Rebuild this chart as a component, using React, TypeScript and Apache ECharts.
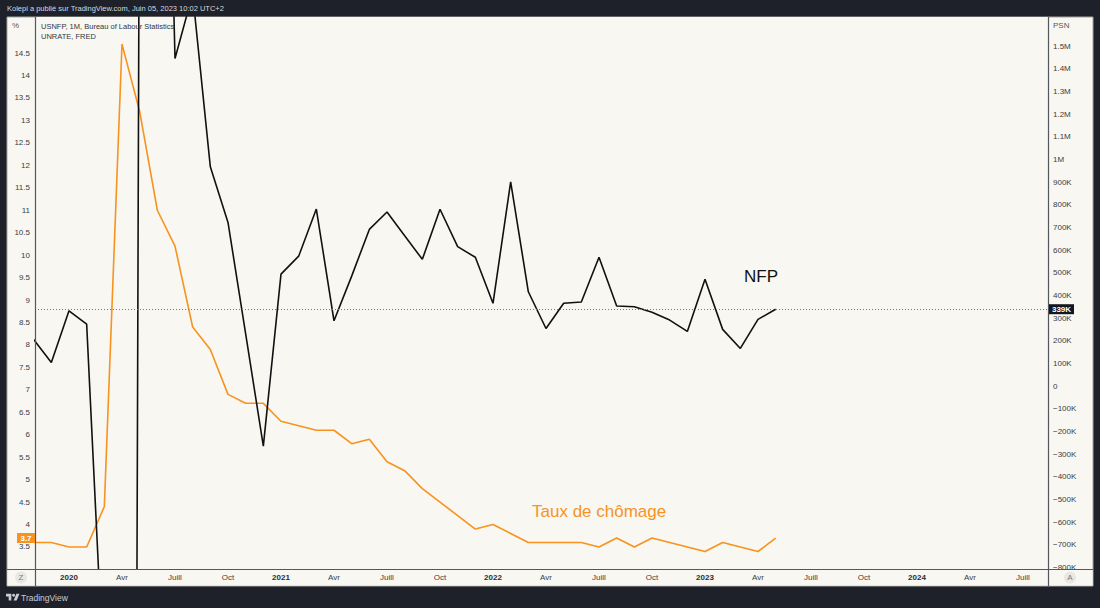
import React, { useEffect, useRef } from "react";
import * as echarts from "echarts";

// ---------- DATA ----------
const MONTHS = [
  "2019-11", "2019-12",
  "2020-01", "2020-02", "2020-03", "2020-04", "2020-05", "2020-06",
  "2020-07", "2020-08", "2020-09", "2020-10", "2020-11", "2020-12",
  "2021-01", "2021-02", "2021-03", "2021-04", "2021-05", "2021-06",
  "2021-07", "2021-08", "2021-09", "2021-10", "2021-11", "2021-12",
  "2022-01", "2022-02", "2022-03", "2022-04", "2022-05", "2022-06",
  "2022-07", "2022-08", "2022-09", "2022-10", "2022-11", "2022-12",
  "2023-01", "2023-02", "2023-03", "2023-04", "2023-05",
];

// Non-farm payrolls, thousands
const NFP_K = [
  205, 104,
  332, 273, -1340, -20493, 2725, 4600, 1445, 1730, 967, 722, 230, -265,
  494, 573, 781, 288, 485, 691, 768, 663, 559, 780, 615, 568,
  365, 901, 416, 254, 365, 371, 568, 353, 350, 326, 291, 241,
  471, 250, 166, 294, 339,
];

// Unemployment rate, %
const UNRATE = [
  3.6, 3.6,
  3.5, 3.5, 4.4, 14.7, 13.2, 11.0, 10.2, 8.4, 7.9, 6.9, 6.7, 6.7,
  6.3, 6.2, 6.1, 6.1, 5.8, 5.9, 5.4, 5.2, 4.8, 4.5, 4.2, 3.9,
  4.0, 3.8, 3.6, 3.6, 3.6, 3.6, 3.5, 3.7, 3.5, 3.7, 3.6, 3.5,
  3.4, 3.6, 3.5, 3.4, 3.7,
];

const X_TICK_MONTHS = [
  "2020-01", "2020-04", "2020-07", "2020-10",
  "2021-01", "2021-04", "2021-07", "2021-10",
  "2022-01", "2022-04", "2022-07", "2022-10",
  "2023-01", "2023-04", "2023-07", "2023-10",
  "2024-01", "2024-04", "2024-07",
];
const X_TICK_LABELS = [
  "2020", "Avr", "Juill", "Oct",
  "2021", "Avr", "Juill", "Oct",
  "2022", "Avr", "Juill", "Oct",
  "2023", "Avr", "Juill", "Oct",
  "2024", "Avr", "Juill",
];
const X_RANGE_MONTHS = ["2019-11", "2024-08"]; // visible window (fractional offsets below)
const X_MIN_OFFSET = 0.0755;
const X_MAX_OFFSET = 0.415;

const LEFT_TICKS = [
  3.5, 4, 4.5, 5, 5.5, 6, 6.5, 7, 7.5, 8, 8.5, 9, 9.5, 10, 10.5, 11,
  11.5, 12, 12.5, 13, 13.5, 14, 14.5,
];
const LEFT_MIN = 3.01;
const LEFT_MAX = 15.304;

const RIGHT_TICKS = [
  -800, -700, -600, -500, -400, -300, -200, -100, 0, 100, 200, 300, 400,
  500, 600, 700, 800, 900, 1000, 1100, 1200, 1300, 1400, 1500,
];
const RIGHT_MIN = -807;
const RIGHT_MAX = 1628;

const HEADER = "Kolepi a publié sur TradingView.com, Juin 05, 2023 10:02 UTC+2";
const LEGEND_1 = "USNFP, 1M, Bureau of Labour Statistics";
const LEGEND_2 = "UNRATE, FRED";

// ---------- HELPERS ----------
function monthIndex(m: string): number {
  const [y, mo] = m.split("-").map(Number);
  return (y - 2020) * 12 + (mo - 1);
}

function fmtK(v: number): string {
  const sign = v < 0 ? "\u2212" : "";
  const a = Math.abs(v);
  if (a === 0) return "0";
  if (a >= 1000) return sign + String(+(a / 1000).toFixed(1)) + "M";
  return sign + String(a) + "K";
}

const COLORS = {
  dark: "#1e212a",
  panel: "#f8f7f2",
  sep: "#55575e",
  text: "#3a3d45",
  black: "#111111",
  orange: "#f7931e",
};

const FONT = "'Liberation Sans', Arial, sans-serif";

const LOGO_D = "M14 22H7V11H0V4h14v18zM28 22h-8l7.5-18h8L28 22z";
let logoRegistered = false;
function registerLogo() {
  if (logoRegistered) return;
  echarts.graphic.registerShape("tvlogo", echarts.graphic.extendPath(LOGO_D, {}) as any);
  logoRegistered = true;
}

export default function App() {
  const ref = useRef<HTMLDivElement>(null);

  useEffect(() => {
    document.body.style.margin = "0";
    registerLogo();
    const chart = echarts.init(ref.current!, undefined, { renderer: "svg" });

    const nfpData = MONTHS.map((m, i) => [monthIndex(m), NFP_K[i]]);
    const unData = MONTHS.map((m, i) => [monthIndex(m), UNRATE[i]]);
    const xTickValues = X_TICK_MONTHS.map(monthIndex);
    const xMin = monthIndex(X_RANGE_MONTHS[0]) + X_MIN_OFFSET;
    const xMax = monthIndex(X_RANGE_MONTHS[1]) + X_MAX_OFFSET;
    const lastNfp = NFP_K[NFP_K.length - 1];
    const lastUn = UNRATE[UNRATE.length - 1];

    chart.setOption({
      animation: false,
      backgroundColor: COLORS.dark,
      textStyle: { fontFamily: FONT },
      grid: {
        left: 35,
        right: 52,
        top: 17,
        bottom: 39,
        show: true,
        backgroundColor: COLORS.panel,
        borderWidth: 0,
      },
      xAxis: {
        type: "value",
        min: xMin,
        max: xMax,
        z: 60,
        axisLine: { show: false },
        axisTick: { show: false },
        splitLine: { show: false },
        axisLabel: {
          customValues: xTickValues,
          margin: 4,
          fontSize: 8,
          color: COLORS.text,
          fontFamily: FONT,
          formatter: (v: number) => {
            const k = xTickValues.indexOf(Math.round(v));
            const s = k >= 0 ? X_TICK_LABELS[k] : "";
            return /^\d{4}$/.test(s) ? "{y|" + s + "}" : s;
          },
          rich: {
            y: { fontWeight: "bold", fontSize: 8, color: "#2a2d35", fontFamily: FONT },
          },
        },
      },
      yAxis: [
        {
          type: "value",
          position: "left",
          min: LEFT_MIN,
          max: LEFT_MAX,
          axisLine: { show: false },
          axisTick: { show: false },
          splitLine: { show: false },
          axisLabel: {
            customValues: LEFT_TICKS,
            margin: 5,
            fontSize: 8,
            color: COLORS.text,
            fontFamily: FONT,
            formatter: (v: number) => String(v),
          },
        },
        {
          type: "value",
          position: "right",
          min: RIGHT_MIN,
          max: RIGHT_MAX,
          axisLine: { show: false },
          axisTick: { show: false },
          splitLine: { show: false },
          axisLabel: {
            customValues: RIGHT_TICKS,
            margin: 5,
            fontSize: 8,
            color: COLORS.text,
            fontFamily: FONT,
            formatter: (v: number) => fmtK(v),
          },
        },
      ],
      series: [
        {
          name: "UNRATE",
          type: "line",
          yAxisIndex: 0,
          data: unData,
          showSymbol: false,
          clip: true,
          lineStyle: { color: COLORS.orange, width: 1.6 },
          z: 3,
        },
        {
          name: "USNFP",
          type: "line",
          yAxisIndex: 1,
          data: nfpData,
          showSymbol: false,
          clip: true,
          lineStyle: { color: COLORS.black, width: 1.6 },
          z: 4,
          markLine: {
            silent: true,
            symbol: "none",
            label: { show: false },
            lineStyle: { color: "#777", width: 1, type: [1, 2] },
            data: [{ yAxis: lastNfp }],
          },
        },
      ],
    });

    const yN = chart.convertToPixel({ yAxisIndex: 1 } as any, lastNfp) as number;
    const yU = chart.convertToPixel({ yAxisIndex: 0 } as any, lastUn) as number;

    const graphics: any[] = [
      {
        type: "rect",
        z: -10,
        silent: true,
        shape: { x: 7, y: 17, width: 1086, height: 569 },
        style: { fill: COLORS.panel, stroke: "#a5a59f", lineWidth: 1 },
      },
      {
        type: "rect",
        z: 50,
        silent: true,
        shape: { x: 7.5, y: 569.5, width: 1085, height: 16 },
        style: { fill: COLORS.panel },
      },
      {
        type: "line",
        z: 55,
        silent: true,
        shape: { x1: 35.5, y1: 17, x2: 35.5, y2: 586 },
        style: { stroke: COLORS.sep, lineWidth: 1.2 },
      },
      {
        type: "line",
        z: 55,
        silent: true,
        shape: { x1: 1048.5, y1: 17, x2: 1048.5, y2: 586 },
        style: { stroke: COLORS.sep, lineWidth: 1.2 },
      },
      {
        type: "line",
        z: 55,
        silent: true,
        shape: { x1: 7, y1: 569.5, x2: 1093, y2: 569.5 },
        style: { stroke: COLORS.sep, lineWidth: 1.2 },
      },
      {
        type: "text",
        z: 60,
        silent: true,
        x: 7,
        y: 8.5,
        style: {
          text: HEADER,
          fill: "#d6d8de",
          font: "7.5px " + FONT,
          textVerticalAlign: "middle",
        },
      },
      {
        type: "text",
        z: 60,
        silent: true,
        x: 41,
        y: 26,
        style: { text: LEGEND_1, fill: "#33363e", font: "7.5px " + FONT, textVerticalAlign: "middle" },
      },
      {
        type: "text",
        z: 60,
        silent: true,
        x: 41,
        y: 36,
        style: { text: LEGEND_2, fill: "#33363e", font: "7.5px " + FONT, textVerticalAlign: "middle" },
      },
      {
        type: "text",
        z: 60,
        silent: true,
        x: 12,
        y: 25,
        style: { text: "%", fill: "#55585f", font: "8px " + FONT, textVerticalAlign: "middle" },
      },
      {
        type: "text",
        z: 60,
        silent: true,
        x: 1053,
        y: 25,
        style: { text: "PSN", fill: "#55585f", font: "8px " + FONT, textVerticalAlign: "middle" },
      },
      {
        type: "circle",
        z: 60,
        silent: true,
        shape: { cx: 21, cy: 577.5, r: 6 },
        style: { fill: "#e9e7e1" },
      },
      {
        type: "text",
        z: 61,
        silent: true,
        x: 21,
        y: 577.5,
        style: { text: "Z", fill: "#7a7c82", font: "8px " + FONT, textAlign: "center", textVerticalAlign: "middle" },
      },
      {
        type: "circle",
        z: 60,
        silent: true,
        shape: { cx: 1070, cy: 577.5, r: 6 },
        style: { fill: "#e9e7e1" },
      },
      {
        type: "text",
        z: 61,
        silent: true,
        x: 1070,
        y: 577.5,
        style: { text: "A", fill: "#7a7c82", font: "8px " + FONT, textAlign: "center", textVerticalAlign: "middle" },
      },
      {
        type: "text",
        z: 60,
        silent: true,
        x: 744,
        y: 276,
        style: { text: "NFP", fill: "#111111", font: "17px " + FONT, textVerticalAlign: "middle" },
      },
      {
        type: "text",
        z: 60,
        silent: true,
        x: 532,
        y: 511,
        style: { text: "Taux de chômage", fill: COLORS.orange, font: "17px " + FONT, textVerticalAlign: "middle" },
      },
      {
        type: "rect",
        z: 62,
        silent: true,
        shape: { x: 1049, y: yN - 5, width: 25, height: 10 },
        style: { fill: "#131722" },
      },
      {
        type: "text",
        z: 63,
        silent: true,
        x: 1061.5,
        y: yN,
        style: {
          text: fmtK(lastNfp),
          fill: "#ffffff",
          font: "bold 8px " + FONT,
          textAlign: "center",
          textVerticalAlign: "middle",
        },
      },
      {
        type: "rect",
        z: 62,
        silent: true,
        shape: { x: 17, y: yU - 5, width: 18, height: 10 },
        style: { fill: COLORS.orange },
      },
      {
        type: "text",
        z: 63,
        silent: true,
        x: 26,
        y: yU,
        style: {
          text: String(lastUn),
          fill: "#ffffff",
          font: "bold 8px " + FONT,
          textAlign: "center",
          textVerticalAlign: "middle",
        },
      },
      {
        type: "tvlogo",
        z: 60,
        silent: true,
        x: 6,
        y: 592.2,
        scaleX: 0.38,
        scaleY: 0.38,
        style: { fill: "#c9ccd4" },
      },
      {
        type: "circle",
        z: 60,
        silent: true,
        shape: { cx: 6 + 20 * 0.38, cy: 592.2 + 8 * 0.38, r: 1.5 },
        style: { fill: "#c9ccd4" },
      },
      {
        type: "text",
        z: 60,
        silent: true,
        x: 21,
        y: 597.5,
        style: { text: "TradingView", fill: "#c9ccd4", font: "8.5px " + FONT, textVerticalAlign: "middle" },
      },
    ];

    chart.setOption({ graphic: graphics });

    return () => chart.dispose();
  }, []);

  return (
    <div
      ref={ref}
      style={{ position: "absolute", left: 0, top: 0, width: 1100, height: 608 }}
    />
  );
}
